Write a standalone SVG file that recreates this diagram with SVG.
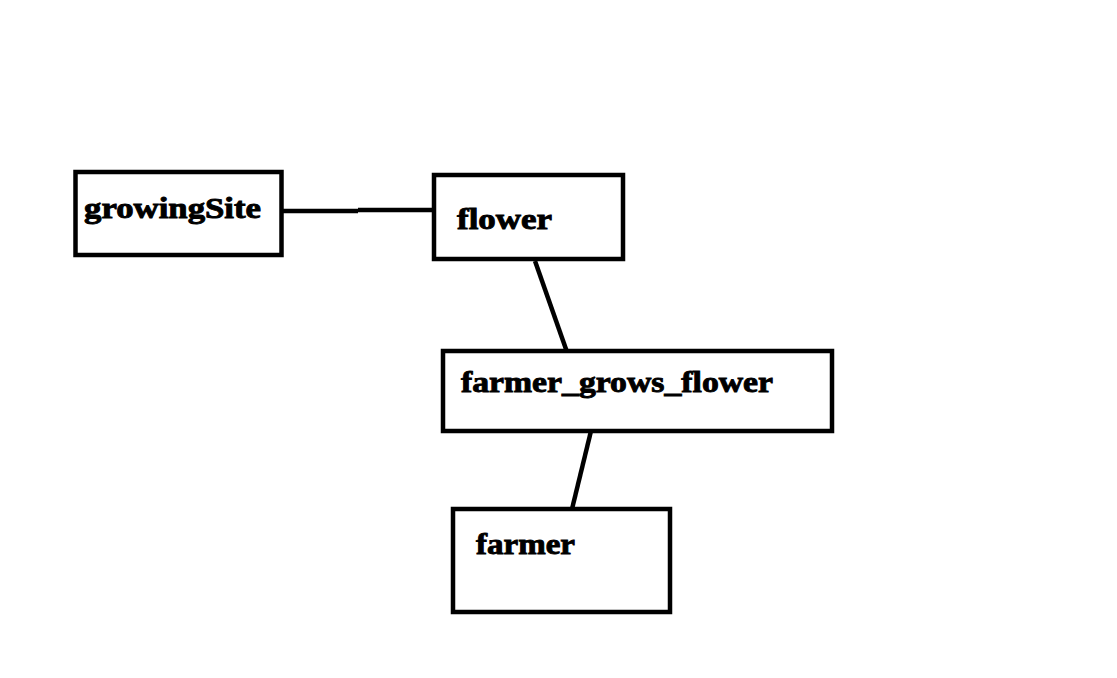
<svg xmlns="http://www.w3.org/2000/svg" width="1117" height="678" viewBox="0 0 1117 678">
<style>
.box{fill:#fff;stroke:#000;stroke-width:4.5}
.lbl{font-family:"Liberation Serif","Times New Roman",serif;font-weight:bold;font-size:29px;fill:#000;stroke:#000;stroke-width:0.9}
.con{stroke:#000;stroke-width:4.5;fill:none}
</style>
<rect x="0" y="0" width="1117" height="678" fill="#fff"/>
<g id="connectors">
<line class="con" x1="283" y1="211" x2="358" y2="211"/>
<line class="con" x1="358" y1="210" x2="433" y2="210"/>
<line class="con" x1="535" y1="261" x2="567" y2="352"/>
<line class="con" x1="591" y1="431" x2="572" y2="509"/>
</g>
<g id="growingSite">
<rect class="box" x="75.5" y="172" width="206" height="83"/>
<text class="lbl" x="84" y="218" textLength="177" lengthAdjust="spacingAndGlyphs">growingSite</text>
</g>
<g id="flower">
<rect class="box" x="434" y="175" width="189" height="84"/>
<text class="lbl" x="457" y="229" textLength="95" lengthAdjust="spacingAndGlyphs">flower</text>
</g>
<g id="farmer_grows_flower">
<rect class="box" x="443" y="351" width="389" height="80"/>
<text class="lbl" x="461" y="392" textLength="312" lengthAdjust="spacingAndGlyphs">farmer_grows_flower</text>
</g>
<g id="farmer">
<rect class="box" x="453" y="509" width="217" height="103"/>
<text class="lbl" x="476" y="554" textLength="99" lengthAdjust="spacingAndGlyphs">farmer</text>
</g>
</svg>
